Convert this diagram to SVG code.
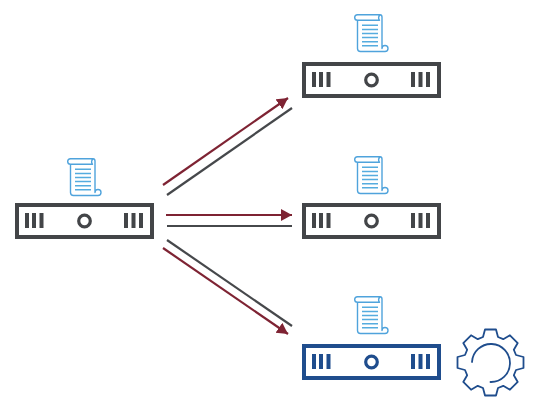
<svg xmlns="http://www.w3.org/2000/svg" width="534" height="402" viewBox="0 0 534 402">
<style>
.box{fill:#fff;stroke-width:4;stroke-linejoin:miter}
.bar{stroke-width:4;fill:none}
.hole{fill:none;stroke-width:3.2}
.gray{stroke:#434548}
.navy{stroke:#1f4d8d}
.scroll{fill:none;stroke:#4fa3dc;stroke-width:1.4;stroke-linejoin:round}
.txt{stroke:#55acdf;stroke-width:1.5;fill:none}
.red{stroke:#7e2333;stroke-width:2.2;fill:none;marker-end:url(#head)}
.line{stroke:#46484b;stroke-width:2.2;fill:none}
.gear{fill:none;stroke:#1f4d8d;stroke-width:1.8;stroke-linejoin:round;stroke-linecap:round}
</style>
<defs>
<marker id="head" markerUnits="userSpaceOnUse" markerWidth="13" markerHeight="13" refX="11" refY="6" orient="auto">
<path d="M0,0L11,6L0,12Z" fill="#7e2333"/>
</marker>
<g id="doc">
<path class="scroll" d="M3.500,6.300V34.500Q3.500,37.500 6.500,37.500H31A3,3 0 1 0 28,34.500V3Q28,0.700 26,0.700H3.500Q0.700,0.700 0.700,3.500Q0.700,6.300 3.500,6.300H25.500Q23.500,3.500 26,0.700"/>
<path class="txt" d="M8,11.300H24M8,15.400H24M8,19.500H24M8,23.600H24M8,27.700H24M8,31.800H24"/>
</g>
<g id="slots">
<path d="M27,213V228M34,213V228M41.500,213V228M126,213V228M133.500,213V228M141,213V228"/>
</g>
</defs>
<g id="connectors">
<path class="red" d="M163,185L288,98"/>
<path class="line" d="M167,195L292,108"/>
<path class="red" d="M166,215H292"/>
<path class="line" d="M167,226H292"/>
<path class="line" d="M167,240L292,326"/>
<path class="red" d="M163,248L288,334"/>
</g>
<g id="source-server">
<use href="#doc" x="67" y="158"/>
<rect class="box gray" x="17" y="205" width="135" height="32"/>
<use href="#slots" class="bar gray"/>
<circle class="hole gray" cx="84.500" cy="221" r="5.800"/>
</g>
<g id="server-top" transform="translate(287,-141)">
<use href="#doc" x="67" y="155"/>
<rect class="box gray" x="17" y="205" width="135" height="32"/>
<use href="#slots" class="bar gray"/>
<circle class="hole gray" cx="84.500" cy="221" r="5.800"/>
</g>
<g id="server-middle" transform="translate(287,0)">
<use href="#doc" x="67" y="156"/>
<rect class="box gray" x="17" y="205" width="135" height="32"/>
<use href="#slots" class="bar gray"/>
<circle class="hole gray" cx="84.500" cy="221" r="5.800"/>
</g>
<g id="server-bottom" transform="translate(287,141)">
<use href="#doc" x="67" y="155"/>
<rect class="box navy" x="17" y="205" width="135" height="32"/>
<use href="#slots" class="bar navy"/>
<circle class="hole navy" cx="84.500" cy="221" r="5.800"/>
</g>
<g id="gear" transform="translate(490.500,362.500)">
<path class="gear" d="M-7.500,-25.500L-5.500,-33H5.500L7.500,-25.500L12.730,-23.330L19.450,-27.220L27.220,-19.450L23.330,-12.730L25.500,-7.500L33,-5.500V5.500L25.500,7.500L23.330,12.730L27.220,19.450L19.450,27.220L12.730,23.330L7.500,25.500L5.500,33H-5.500L-7.500,25.500L-12.730,23.330L-19.450,27.220L-27.220,19.450L-23.330,12.730L-25.500,7.500L-33,5.500V-5.500L-25.500,-7.500L-23.330,-12.730L-27.220,-19.450L-19.450,-27.220L-12.730,-23.330Z"/>
<path class="gear" d="M-18.500,-0.500A19,19 0 1 1 0,19.500"/>
</g>
</svg>
